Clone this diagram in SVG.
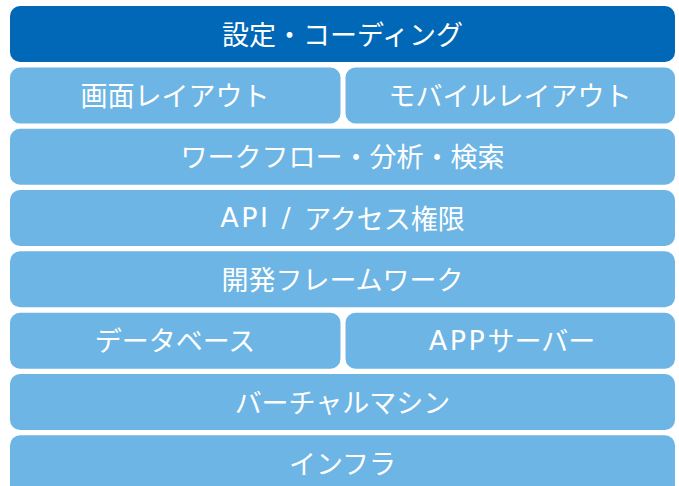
<svg xmlns="http://www.w3.org/2000/svg" width="679" height="486" viewBox="0 0 679 486">
<style>
.dark{fill:#0068b6}
.light{fill:#6db5e4}
text{fill:#ffffff;font-family:"Noto Sans CJK JP","Liberation Sans",sans-serif;font-size:27px;font-weight:400;text-anchor:middle;dominant-baseline:central}
.lat{font-family:"DejaVu Sans",sans-serif;font-size:27px;letter-spacing:2.5px}
</style>
<rect width="679" height="486" fill="#ffffff"/>
<g id="settings"><rect class="dark" x="10" y="6" width="665" height="56" rx="10"/><text x="342.5" y="33">設定・コーディング</text></g>
<g id="screen-layout"><rect class="light" x="10" y="67.5" width="330.5" height="56" rx="10"/><text x="175" y="94.5">画面レイアウト</text></g>
<g id="mobile-layout"><rect class="light" x="345.5" y="67.5" width="329.5" height="56" rx="10"/><text x="510" y="94.5">モバイルレイアウト</text></g>
<g id="workflow"><rect class="light" x="10" y="128.7" width="665" height="56" rx="10"/><text x="342.5" y="155.7">ワークフロー・分析・検索</text></g>
<g id="api"><rect class="light" x="10" y="190" width="665" height="56" rx="10"/><text x="342.5" y="217"><tspan class="lat">API / </tspan>アクセス権限</text></g>
<g id="framework"><rect class="light" x="10" y="251.3" width="665" height="56" rx="10"/><text x="342.5" y="278.3">開発フレームワーク</text></g>
<g id="database"><rect class="light" x="10" y="312.7" width="330.5" height="56" rx="10"/><text x="175" y="339.7">データベース</text></g>
<g id="app-server"><rect class="light" x="345.5" y="312.7" width="329.5" height="56" rx="10"/><text x="512" y="339.7"><tspan class="lat">APP</tspan>サーバー</text></g>
<g id="vm"><rect class="light" x="10" y="374" width="665" height="56" rx="10"/><text x="342.5" y="401">バーチャルマシン</text></g>
<g id="infra"><rect class="light" x="10" y="435.3" width="665" height="66" rx="10"/><text x="342.5" y="462.3">インフラ</text></g>
<g id="connectors"></g>
</svg>
